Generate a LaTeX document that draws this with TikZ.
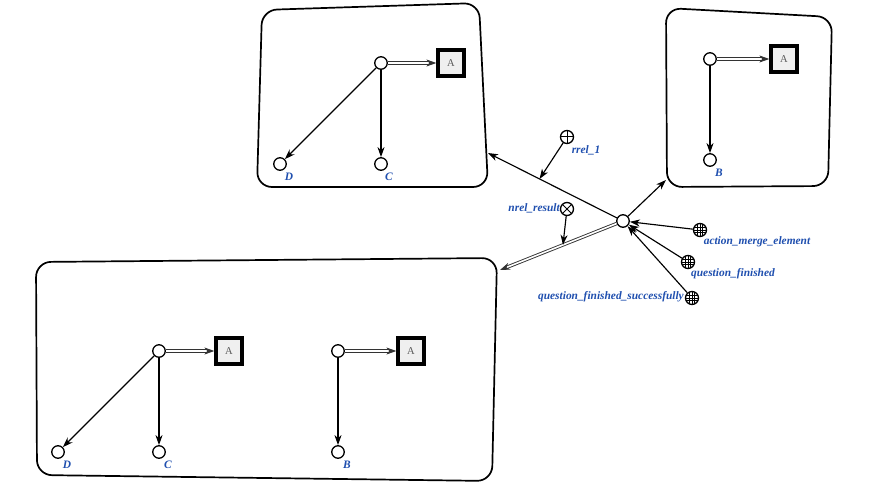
\documentclass[tikz,border=0pt]{standalone}
\usepackage{fontspec}
\setmainfont{Liberation Serif}
\usetikzlibrary{arrows.meta,calc}
\definecolor{lblblue}{HTML}{1F4FAF}
\definecolor{boxfill}{HTML}{EFEFEF}
\tikzset{
  scnode/.style={circle,draw,line width=1.3pt,fill=white,minimum size=12.5pt,inner sep=0pt},
  opnode/.style={scnode,minimum size=13pt},
  plusnode/.style={opnode,path picture={
      \draw[line width=1pt] (path picture bounding box.north) -- (path picture bounding box.south)
        (path picture bounding box.west) -- (path picture bounding box.east);}},
  timesnode/.style={opnode,path picture={
      \draw[line width=1pt] (path picture bounding box.north west) -- (path picture bounding box.south east)
        (path picture bounding box.north east) -- (path picture bounding box.south west);}},
  gridnode/.style={opnode,path picture={
      \foreach \d in {-2.6,0,2.6}{
        \draw[line width=0.55pt] ([xshift=\d pt]path picture bounding box.north) -- ([xshift=\d pt]path picture bounding box.south);
        \draw[line width=0.55pt] ([yshift=\d pt]path picture bounding box.west) -- ([yshift=\d pt]path picture bounding box.east);}}},
  abox/.style={rectangle,draw,line width=3.3pt,fill=boxfill,minimum size=26pt,inner sep=0pt,
      font=\fontsize{10.5}{12}\selectfont,text=black!65,
      path picture={\fill (path picture bounding box.north west) -- ++(8pt,0) -- ++(-8pt,-8pt) -- cycle;}},
  lbl/.style={font=\fontsize{11.4}{13}\selectfont\bfseries\itshape,text=lblblue,inner sep=1pt},
  contour/.style={draw,line width=1.7pt,rounded corners=15pt},
  arc/.style={draw,line width=1.15pt,-{Stealth[length=10pt,width=7pt,inset=3pt]}},
  darc/.style={draw=black!80,line width=0.9pt,double=white,double distance=1.6pt,
      -{Stealth[length=10pt,width=7pt,inset=3pt]}},
}
\begin{document}
\begin{tikzpicture}[x=1pt,y=-1pt]
\useasboundingbox[fill=white] (0,0) rectangle (873,492);

% structure contours
\coordinate (c1a) at (262,10);  \coordinate (c1b) at (479,3);
\coordinate (c1c) at (488,187); \coordinate (c1d) at (257,187);
\draw[contour] (c1a) -- (c1b) -- (c1c) -- (c1d) -- cycle;
\coordinate (c2a) at (666,8);   \coordinate (c2b) at (832,17);
\coordinate (c2c) at (828,186); \coordinate (c2d) at (667,187);
\draw[contour] (c2a) -- (c2b) -- (c2c) -- (c2d) -- cycle;
\coordinate (c3a) at (36,262);  \coordinate (c3b) at (497,258);
\coordinate (c3c) at (492,481); \coordinate (c3d) at (37,475);
\draw[contour] (c3a) -- (c3b) -- (c3c) -- (c3d) -- cycle;

\coordinate (c1in) at (488,153);
\coordinate (c2in) at (666,180);
\coordinate (c3in) at (500,270);

% first contour
\node[scnode] (t1) at (381,63) {};
\node[abox] (a1) at (451,63) {A};
\node[scnode] (d1) at (280,164) {};
\node[scnode] (k1) at (381,164) {};
\node[lbl] at (289,177) {D};
\node[lbl] at (389,177) {C};
\draw[darc] (t1) -- (a1);
\draw[arc] (t1) -- (d1);
\draw[arc] (t1) -- (k1);

% second contour
\node[scnode] (t2) at (710,59) {};
\node[abox] (a2) at (784,59) {A};
\node[scnode] (b2) at (710,160) {};
\node[lbl] at (719,173) {B};
\draw[darc] (t2) -- (a2);
\draw[arc] (t2) -- (b2);

% third contour
\node[scnode] (t3) at (159,351) {};
\node[abox] (a3) at (229,351) {A};
\node[scnode] (d3) at (58,452) {};
\node[scnode] (k3) at (159,452) {};
\node[lbl] at (67,465) {D};
\node[lbl] at (168,465) {C};
\draw[darc] (t3) -- (a3);
\draw[arc] (t3) -- (d3);
\draw[arc] (t3) -- (k3);
\node[scnode] (t4) at (338,351) {};
\node[abox] (a4) at (411,351) {A};
\node[scnode] (b4) at (338,452) {};
\node[lbl] at (347,465) {B};
\draw[darc] (t4) -- (a4);
\draw[arc] (t4) -- (b4);

% action node and its relations
\node[scnode] (act) at (623,221) {};
\draw[arc] (act) -- coordinate[pos=0.6] (m1) (c1in);
\draw[arc] (act) -- (c2in);
\draw[darc] (act) -- coordinate[pos=0.46] (m3) (c3in);

\node[plusnode] (rrel) at (567,137) {};
\node[lbl] at (586,150) {rrel\_1};
\draw[arc] (rrel) -- (m1);

\node[timesnode] (nrel) at (567,209) {};
\node[lbl,anchor=east] at (561,208) {nrel\_result};
\draw[arc] (nrel) -- (m3);

\node[gridnode] (g1) at (700,230) {};
\node[lbl] at (757,242) {action\_merge\_element};
\node[gridnode] (g2) at (688,262) {};
\node[lbl] at (733,274) {question\_finished};
\node[gridnode] (g3) at (692,298) {};
\node[lbl,anchor=east] at (685,297) {question\_finished\_successfully};
\draw[arc] (g1) -- (act);
\draw[arc] (g2) -- (act);
\draw[arc] (g3) -- (act);
\end{tikzpicture}
\end{document}
